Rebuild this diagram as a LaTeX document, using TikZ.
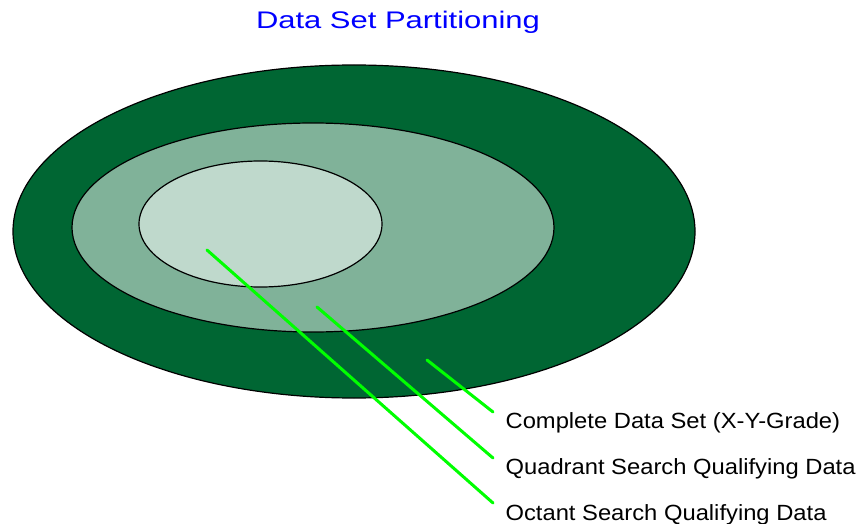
\documentclass[tikz,border=0pt]{standalone}
\usepackage{fontspec}
\setmainfont{Liberation Sans}
\newfontfamily\titlefont[FakeStretch=1.29]{Liberation Sans}
\newfontfamily\labelfont[FakeStretch=1.08]{Liberation Sans}
\definecolor{darkset}{HTML}{006633}
\definecolor{midset}{HTML}{80B299}
\definecolor{lightset}{HTML}{BFD9CC}
\definecolor{pointer}{HTML}{00FF00}
\tikzset{
  setlabel/.style={anchor=base west, inner sep=0pt, font=\labelfont\fontsize{22}{26}\selectfont},
  pointerline/.style={pointer, line width=3pt},
}

\begin{document}
\begin{tikzpicture}[line width=1.2pt, line cap=round, line join=round, x=1pt, y=-1pt]
  \useasboundingbox (0,0) rectangle (860,524);
  \node[text=blue, font=\titlefont\fontsize{24}{28}\selectfont, anchor=base, inner sep=0pt] (title) at (398,28.5) {Data Set Partitioning};
  % nested sets
  \filldraw[fill=darkset] (354,231.5) ellipse [x radius=341, y radius=166.5];
  \filldraw[fill=midset] (313,227.5) ellipse [x radius=241, y radius=104.5];
  \filldraw[fill=lightset] (260.5,224) ellipse [x radius=121.5, y radius=63];
  % labels
  \node[setlabel] (complete) at (505,428) {Complete Data Set (X-Y-Grade)};
  \node[setlabel] (quadrant) at (505,474) {Quadrant Search Qualifying Data};
  \node[setlabel] (octant) at (505,520) {Octant Search Qualifying Data};
  \coordinate (completeTip) at (427,360);
  \coordinate (quadrantTip) at (317,307);
  \coordinate (octantTip) at (207,250);
  \coordinate (completeEnd) at (493,412);
  \coordinate (quadrantEnd) at (493,458);
  \coordinate (octantEnd) at (493,503);
  \draw[pointerline] (completeTip) -- (completeEnd);
  \draw[pointerline] (quadrantTip) -- (quadrantEnd);
  \draw[pointerline] (octantTip) -- (octantEnd);
\end{tikzpicture}
\end{document}
